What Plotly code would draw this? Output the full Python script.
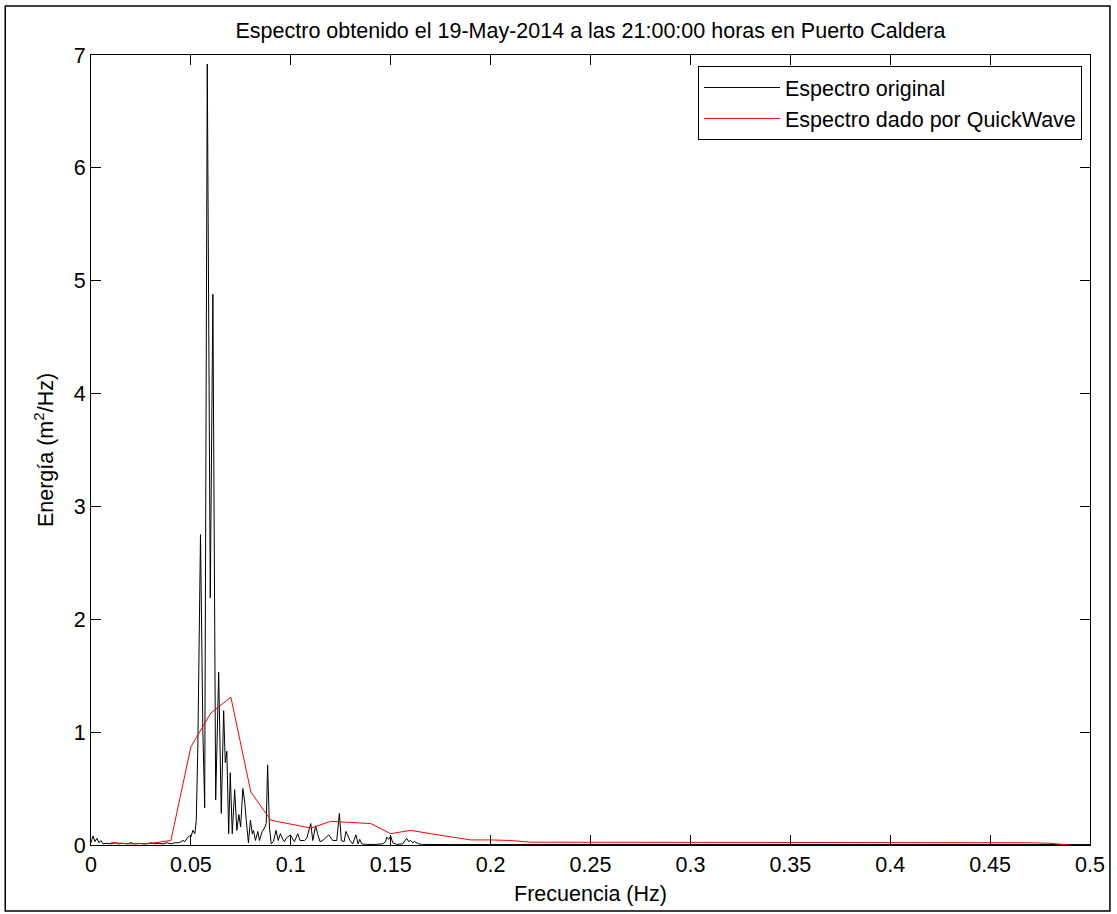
import plotly.graph_objects as go

# Original spectrum (black)
freq_orig = [0.000, 0.001, 0.002, 0.003, 0.004, 0.005, 0.006, 0.008, 0.010, 0.012,
             0.014, 0.016, 0.018, 0.020, 0.022, 0.024, 0.026, 0.028, 0.030, 0.032,
             0.034, 0.036, 0.038, 0.040, 0.042, 0.044, 0.046, 0.047, 0.0485, 0.0494,
             0.0500, 0.0510, 0.0520, 0.0527, 0.0535, 0.0548, 0.0560, 0.0569, 0.0582, 0.0597,
             0.0610, 0.0624, 0.0639, 0.0652, 0.0664, 0.0672, 0.0680, 0.0689, 0.0697, 0.0707,
             0.0719, 0.0730, 0.0740, 0.0749, 0.0760, 0.0770, 0.0777, 0.0788, 0.0798, 0.0807,
             0.0813, 0.0823, 0.0835, 0.0843, 0.0857, 0.0868, 0.0877, 0.0884, 0.0893, 0.0902,
             0.0913, 0.0926, 0.0937, 0.0948, 0.0960, 0.0968, 0.0977, 0.0998, 0.1018, 0.1035,
             0.1046, 0.1068, 0.1080, 0.1100, 0.1110, 0.1124, 0.1134, 0.1146, 0.1160, 0.1176,
             0.1190, 0.1210, 0.1230, 0.1243, 0.1253, 0.1267, 0.1276, 0.1284, 0.1296, 0.1310,
             0.1326, 0.1337, 0.1345, 0.1355, 0.1380, 0.1420, 0.1460, 0.1475, 0.1480, 0.1490,
             0.1500, 0.1510, 0.1530, 0.1560, 0.1580, 0.1590, 0.1600, 0.1610, 0.1620, 0.1640,
             0.1660, 0.1800, 0.2000, 0.2500, 0.3000, 0.3500, 0.4000, 0.4500, 0.5000]
energy_orig = [0.02, 0.08, 0.03, 0.06, 0.02, 0.04, 0.01, 0.015, 0.01, 0.02,
               0.01, 0.015, 0.01, 0.02, 0.01, 0.015, 0.01, 0.01, 0.02, 0.01,
               0.015, 0.01, 0.02, 0.01, 0.02, 0.02, 0.04, 0.03, 0.07, 0.08,
               0.07, 0.13, 0.10, 0.22, 0.90, 2.75, 1.00, 0.33, 6.92, 2.19,
               4.88, 0.40, 1.53, 0.28, 1.19, 0.73, 0.83, 0.10, 0.64, 0.10,
               0.49, 0.13, 0.27, 0.16, 0.50, 0.37, 0.22, 0.02, 0.22, 0.10,
               0.13, 0.04, 0.12, 0.04, 0.12, 0.15, 0.19, 0.71, 0.16, 0.01,
               0.03, 0.13, 0.04, 0.10, 0.05, 0.03, 0.06, 0.09, 0.03, 0.10,
               0.04, 0.04, 0.06, 0.19, 0.04, 0.17, 0.10, 0.03, 0.04, 0.07,
               0.09, 0.04, 0.04, 0.28, 0.04, 0.03, 0.12, 0.09, 0.04, 0.01,
               0.09, 0.01, 0.05, 0.01, 0.005, 0.005, 0.01, 0.03, 0.07, 0.05,
               0.08, 0.02, 0.005, 0.01, 0.06, 0.03, 0.04, 0.02, 0.03, 0.01,
               0.005, 0.004, 0.004, 0.004, 0.004, 0.004, 0.004, 0.004, 0.004]

# QuickWave spectrum (red)
freq_qw = [0.01, 0.02, 0.03, 0.04, 0.05, 0.06, 0.07, 0.08, 0.09, 0.10,
           0.11, 0.12, 0.13, 0.14, 0.15, 0.16, 0.17, 0.18, 0.19, 0.20,
           0.21, 0.22, 0.23, 0.24, 0.25, 0.26, 0.27, 0.28, 0.29, 0.30,
           0.31, 0.32, 0.33, 0.34, 0.35, 0.36, 0.37, 0.38, 0.39, 0.40,
           0.41, 0.42, 0.43, 0.44, 0.45, 0.46, 0.47, 0.48, 0.49]
energy_qw = [0.02, 0.01, 0.015, 0.04, 0.87, 1.17, 1.31, 0.47, 0.22, 0.185,
             0.15, 0.21, 0.20, 0.19, 0.10, 0.13, 0.10, 0.07, 0.045, 0.045,
             0.04, 0.025, 0.025, 0.025, 0.025, 0.025, 0.02, 0.02, 0.02, 0.02,
             0.02, 0.02, 0.02, 0.02, 0.02, 0.02, 0.02, 0.02, 0.02, 0.02,
             0.02, 0.02, 0.02, 0.02, 0.02, 0.02, 0.02, 0.015, 0.0]

x_ticks = [0, 0.05, 0.1, 0.15, 0.2, 0.25, 0.3, 0.35, 0.4, 0.45, 0.5]
x_tick_labels = ["0", "0.05", "0.1", "0.15", "0.2", "0.25", "0.3", "0.35", "0.4", "0.45", "0.5"]
y_ticks = [0, 1, 2, 3, 4, 5, 6, 7]

title_text = "Espectro obtenido el 19-May-2014 a las 21:00:00 horas en Puerto Caldera"

font_family = "Liberation Sans, Arial, sans-serif"
FS = 21.5

fig = go.Figure()
fig.add_trace(go.Scatter(x=freq_orig, y=energy_orig, mode="lines",
                         line=dict(color="black", width=1), name="Espectro original"))
fig.add_trace(go.Scatter(x=freq_qw, y=energy_qw, mode="lines",
                         line=dict(color="red", width=1), name="Espectro dado por QuickWave"))

W, H = 1117, 914
L, R, T, B = 91, 24, 55, 69
pw, ph = W - L - R, H - T - B

def px2paper_x(p):
    return (p - L) / pw

def px2paper_y(p):
    return (H - B - p) / ph

fig.update_layout(
    width=W, height=H,
    margin=dict(l=L, r=R, t=T, b=B),
    paper_bgcolor="white", plot_bgcolor="white",
    font=dict(family=font_family, size=FS, color="black"),
    title=dict(text=title_text, x=0.5, xref="paper", xanchor="center",
               y=1 - 30 / H, yanchor="middle",
               font=dict(family=font_family, size=FS, color="black")),
    showlegend=True,
    legend=dict(x=px2paper_x(1085), y=px2paper_y(66), xanchor="right", yanchor="top",
                bordercolor="black", borderwidth=1, bgcolor="white",
                itemwidth=76, tracegroupgap=0,
                font=dict(family=font_family, size=FS, color="black")),
    xaxis=dict(range=[0, 0.5], tickvals=x_ticks, ticktext=x_tick_labels,
               ticks="inside", ticklen=10, tickcolor="black", showline=True,
               linecolor="black", linewidth=1, mirror="ticks", showgrid=False,
               zeroline=False, tickfont=dict(size=FS),
               title=dict(text="Frecuencia (Hz)", standoff=10, font=dict(size=FS))),
    yaxis=dict(range=[0, 7], tickvals=y_ticks,
               ticks="inside", ticklen=10, tickcolor="black", showline=True,
               linecolor="black", linewidth=1, mirror="ticks", showgrid=False,
               zeroline=False, tickfont=dict(size=FS),
               title=dict(text="Energía (m<sup>2</sup>/Hz)", standoff=14, font=dict(size=FS))),
    shapes=[dict(type="rect", xref="paper", yref="paper",
                 x0=px2paper_x(5), x1=px2paper_x(1113),
                 y0=px2paper_y(911), y1=px2paper_y(6),
                 line=dict(color="black", width=1.5), fillcolor="rgba(0,0,0,0)")],
)

fig.write_html(
    "out.html",
    config={"displayModeBar": False},
    post_script="document.body.style.margin='0';document.body.style.overflow='hidden';",
)
